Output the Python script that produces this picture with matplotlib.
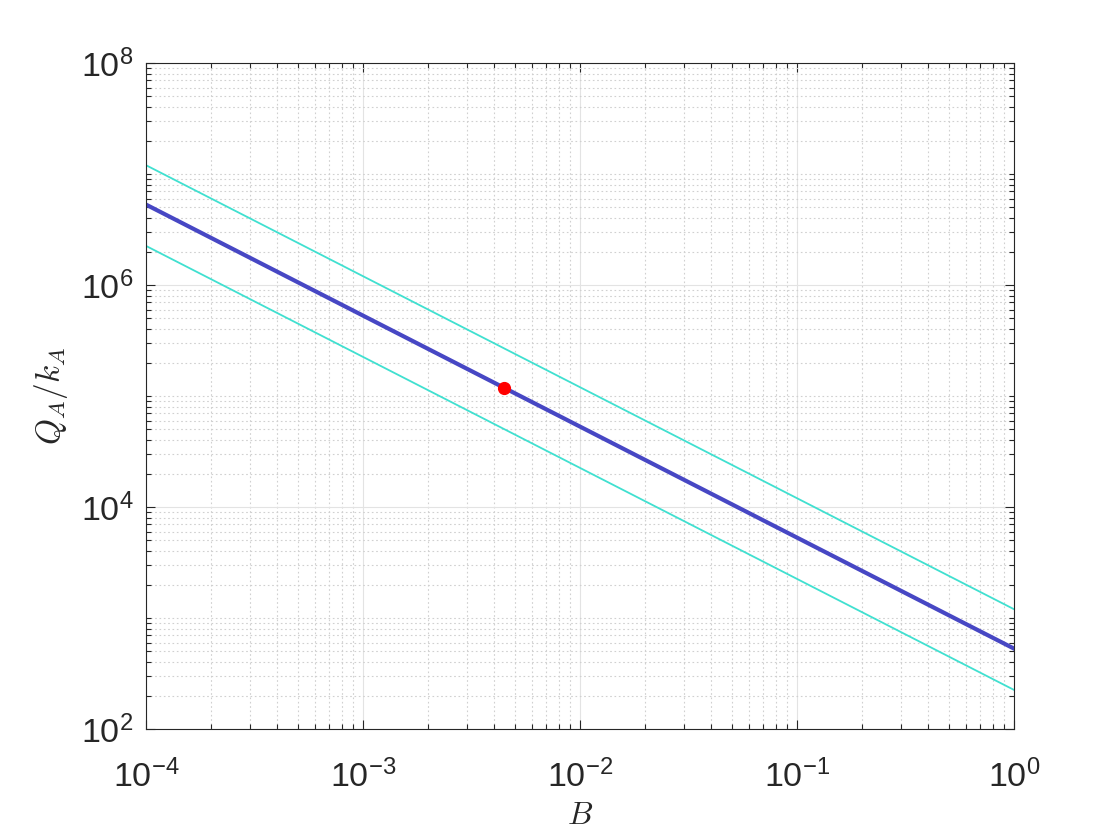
import numpy as np
import matplotlib
matplotlib.use('Agg')
import matplotlib.pyplot as plt
from matplotlib.ticker import LogLocator, FixedLocator, FuncFormatter, NullFormatter

# valeurs (une par decade)
B = [1e-4, 1e-3, 1e-2, 1e-1, 1e0]
Q_mid = [5.3e6, 5.3e5, 5.3e4, 5.3e3, 5.3e2]
Q_haut = [1.2e7, 1.2e6, 1.2e5, 1.2e4, 1.2e3]
Q_bas = [2.25e6, 2.25e5, 2.25e4, 2.25e3, 2.25e2]

# point de fonctionnement
B_pt = [4.45e-3]
Q_pt = [1.18e5]

plt.rcParams['font.family'] = ['Liberation Sans', 'DejaVu Sans']
plt.rcParams['mathtext.fontset'] = 'custom'
plt.rcParams['mathtext.rm'] = 'Liberation Sans'
plt.rcParams['mathtext.it'] = 'Liberation Sans:italic'

gris = '#262626'

fig = plt.figure(figsize=(11.2, 8.4), dpi=100)
ax = fig.add_axes([0.1304, 0.1321, 0.775, 0.7929])

ax.plot(B, Q_haut, color='#40E0D0', lw=1.3)
ax.plot(B, Q_bas, color='#40E0D0', lw=1.3)
ax.plot(B, Q_mid, color='#4747C4', lw=3.0)
ax.plot(B_pt, Q_pt, 'o', color='#FF0000', ms=8.5)

ax.set_xscale('log')
ax.set_yscale('log')
ax.set_xlim(1e-4, 1)
ax.set_ylim(1e2, 1e8)

ax.xaxis.set_major_locator(LogLocator(base=10, numticks=10))
ax.yaxis.set_major_locator(FixedLocator([1e2, 1e4, 1e6, 1e8]))
ax.xaxis.set_minor_locator(LogLocator(base=10, subs=np.arange(2, 10), numticks=20))
ax.yaxis.set_minor_locator(LogLocator(base=10, subs=np.arange(1, 10), numticks=20))
ax.xaxis.set_minor_formatter(NullFormatter())
ax.yaxis.set_minor_formatter(NullFormatter())

fmt = FuncFormatter(lambda v, p: r'$\mathregular{10^{%d}}$' % round(np.log10(v)))
ax.xaxis.set_major_formatter(fmt)
ax.yaxis.set_major_formatter(fmt)

ax.grid(True, which='major', color='#e3e3e3', lw=0.8, ls='-')
ax.grid(True, which='minor', color='#d0d0d0', lw=0.8, ls=(0, (1.5, 2.4)))
ax.set_axisbelow(True)

ax.tick_params(which='both', direction='in', top=True, right=True, colors=gris)
ax.tick_params(which='major', length=6.5, width=0.8, labelsize=24.5)
ax.tick_params(which='minor', length=3.6, width=0.8)
ax.tick_params(axis='x', which='major', pad=22)
ax.tick_params(axis='y', which='major', pad=9)
for s in ax.spines.values():
    s.set_color(gris)
    s.set_linewidth(0.8)

ax.set_xlabel(r'$B$', fontsize=23, math_fontfamily='cm', color=gris, labelpad=5)
ax.set_ylabel(r'$Q_A/k_A$', fontsize=24, math_fontfamily='cm', color=gris, labelpad=8)

fig.savefig('out.png', dpi=100)
